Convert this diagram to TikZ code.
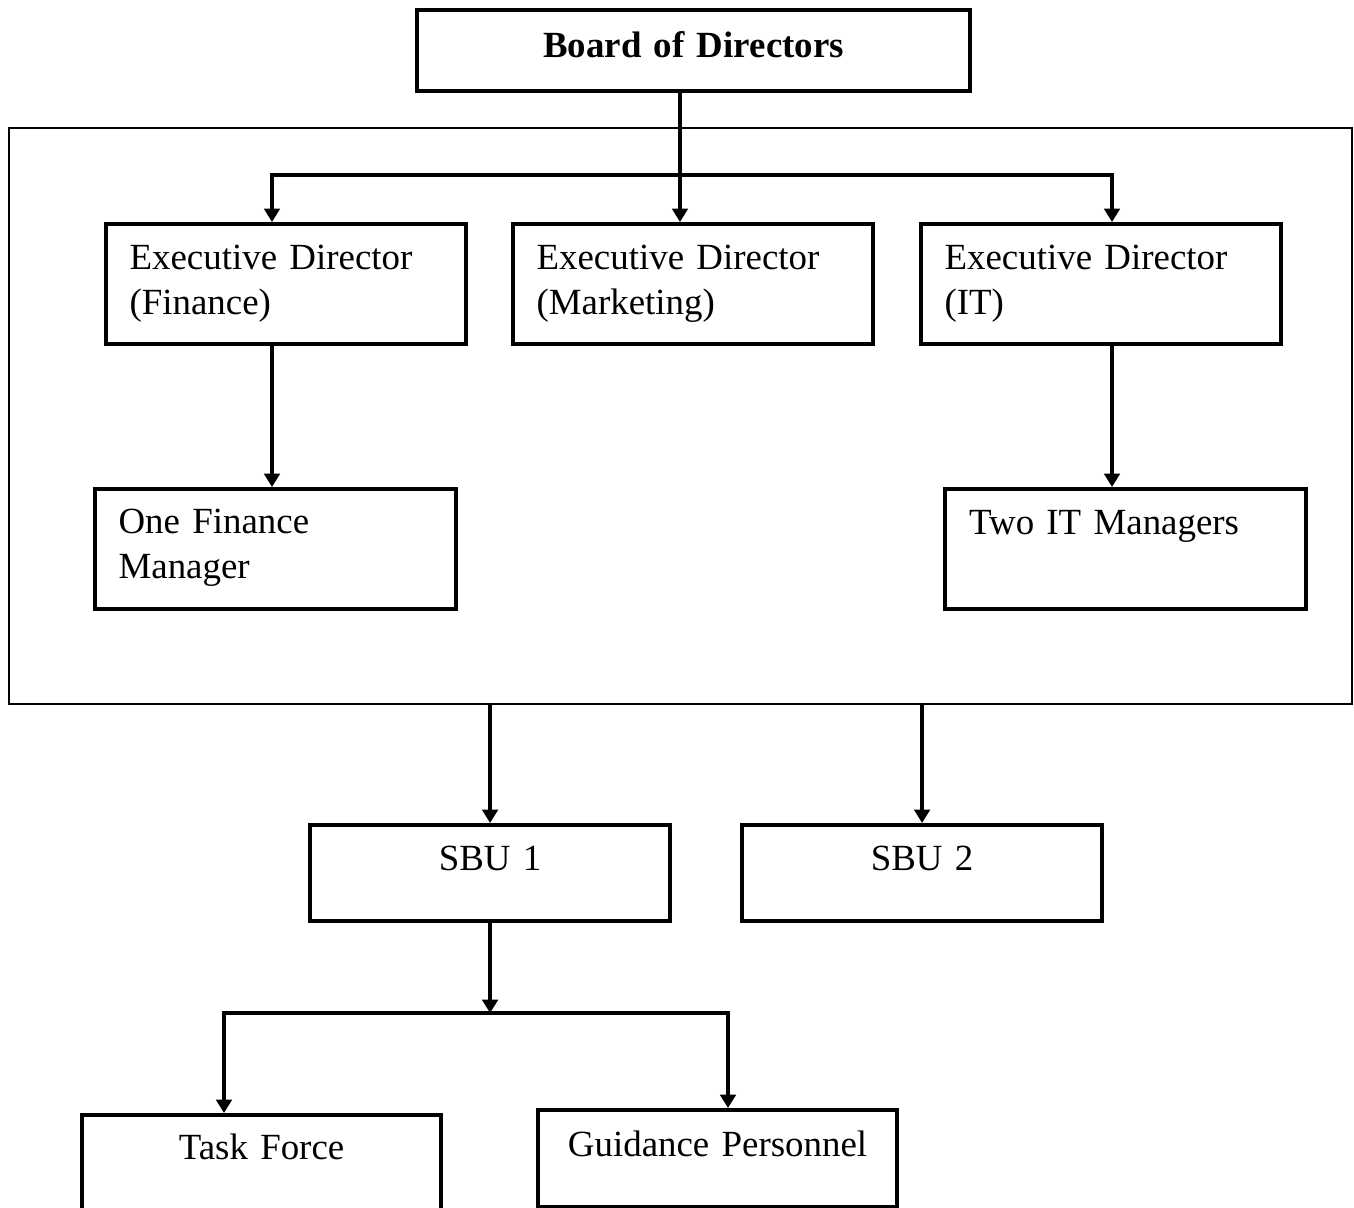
\documentclass[tikz,border=0pt]{standalone}
\usepackage{fontspec}
\setmainfont{Liberation Serif}
\usetikzlibrary{arrows.meta}

\begin{document}
\begin{tikzpicture}[x=0.02cm,y=-0.02cm,
    box/.style={draw,line width=2.4pt,anchor=north west,inner ysep=0pt,
      font=\fontsize{21}{26}\selectfont},
    lbox/.style={box,align=left,inner xsep=0.47cm,text width=6.26cm,
      text height=0.9cm,text depth=1.5cm},
    cbox/.style={box,align=center,inner xsep=0pt,text width=7.2cm,
      text height=0.9cm,text depth=1.02cm},
    groupbox/.style={draw,line width=1.1pt,anchor=north west,inner sep=0pt,
      minimum width=26.86cm,minimum height=11.52cm},
    conn/.style={line width=2pt,-{Triangle[length=7.6pt,width=8.8pt]}}]
    \useasboundingbox (0,0) rectangle (1354,1207);
    \clip (0,0) rectangle (1354,1207);
    % board and management group
    \node[box,align=center,inner xsep=0pt,text width=11.06cm,text height=0.94cm,
      text depth=0.68cm,font=\fontsize{21}{26}\selectfont\bfseries] (board) at (415,8) {Board of Directors};
    \node[groupbox] (core) at (8,127) {};
    \node[lbox] (fin) at (104,222) {Executive Director\\(Finance)};
    \node[lbox] (mkt) at (511,222) {Executive Director\\(Marketing)};
    \node[lbox] (itd) at (919,222) {Executive Director\\(IT)};
    \node[lbox,text width=6.28cm,text height=0.88cm,text depth=1.52cm] (finmgr) at (93,487) {One Finance\\Manager};
    \node[lbox,inner xsep=0.48cm,text width=6.26cm] (itmgr) at (943,487) {Two IT Managers};
    % business units
    \node[cbox] (sbu1) at (308,823) {SBU 1};
    \node[cbox] (sbu2) at (740,823) {SBU 2};
    \node[cbox,text width=7.18cm,text height=0.88cm,text depth=1.06cm] (task) at (80,1113) {Task Force};
    \node[cbox,text width=7.18cm,text height=0.92cm,text depth=1.02cm] (guide) at (536,1108) {Guidance Personnel};

    \coordinate (trunk) at (680,175);
    \coordinate (lbr) at (272,175);
    \coordinate (rbr) at (1112,175);
    \coordinate (tbr) at (224,1013);
    \coordinate (gbr) at (728,1013);

    \draw[conn] (trunk |- board.south) -- (trunk |- mkt.north);
    \draw[conn] (trunk) -| (lbr |- fin.north);
    \draw[conn] (trunk) -| (rbr |- itd.north);
    \draw[conn] (lbr |- fin.south) -- (lbr |- finmgr.north);
    \draw[conn] (rbr |- itd.south) -- (rbr |- itmgr.north);
    \draw[conn] (core.south -| sbu1.north) -- (sbu1.north);
    \draw[conn] (core.south -| sbu2.north) -- (sbu2.north);
    \draw[conn] (sbu1.south) -- (sbu1.south |- tbr);
    \draw[conn] (sbu1.south |- tbr) -| (tbr |- task.north);
    \draw[conn] (sbu1.south |- tbr) -| (gbr |- guide.north);
\end{tikzpicture}
\end{document}
